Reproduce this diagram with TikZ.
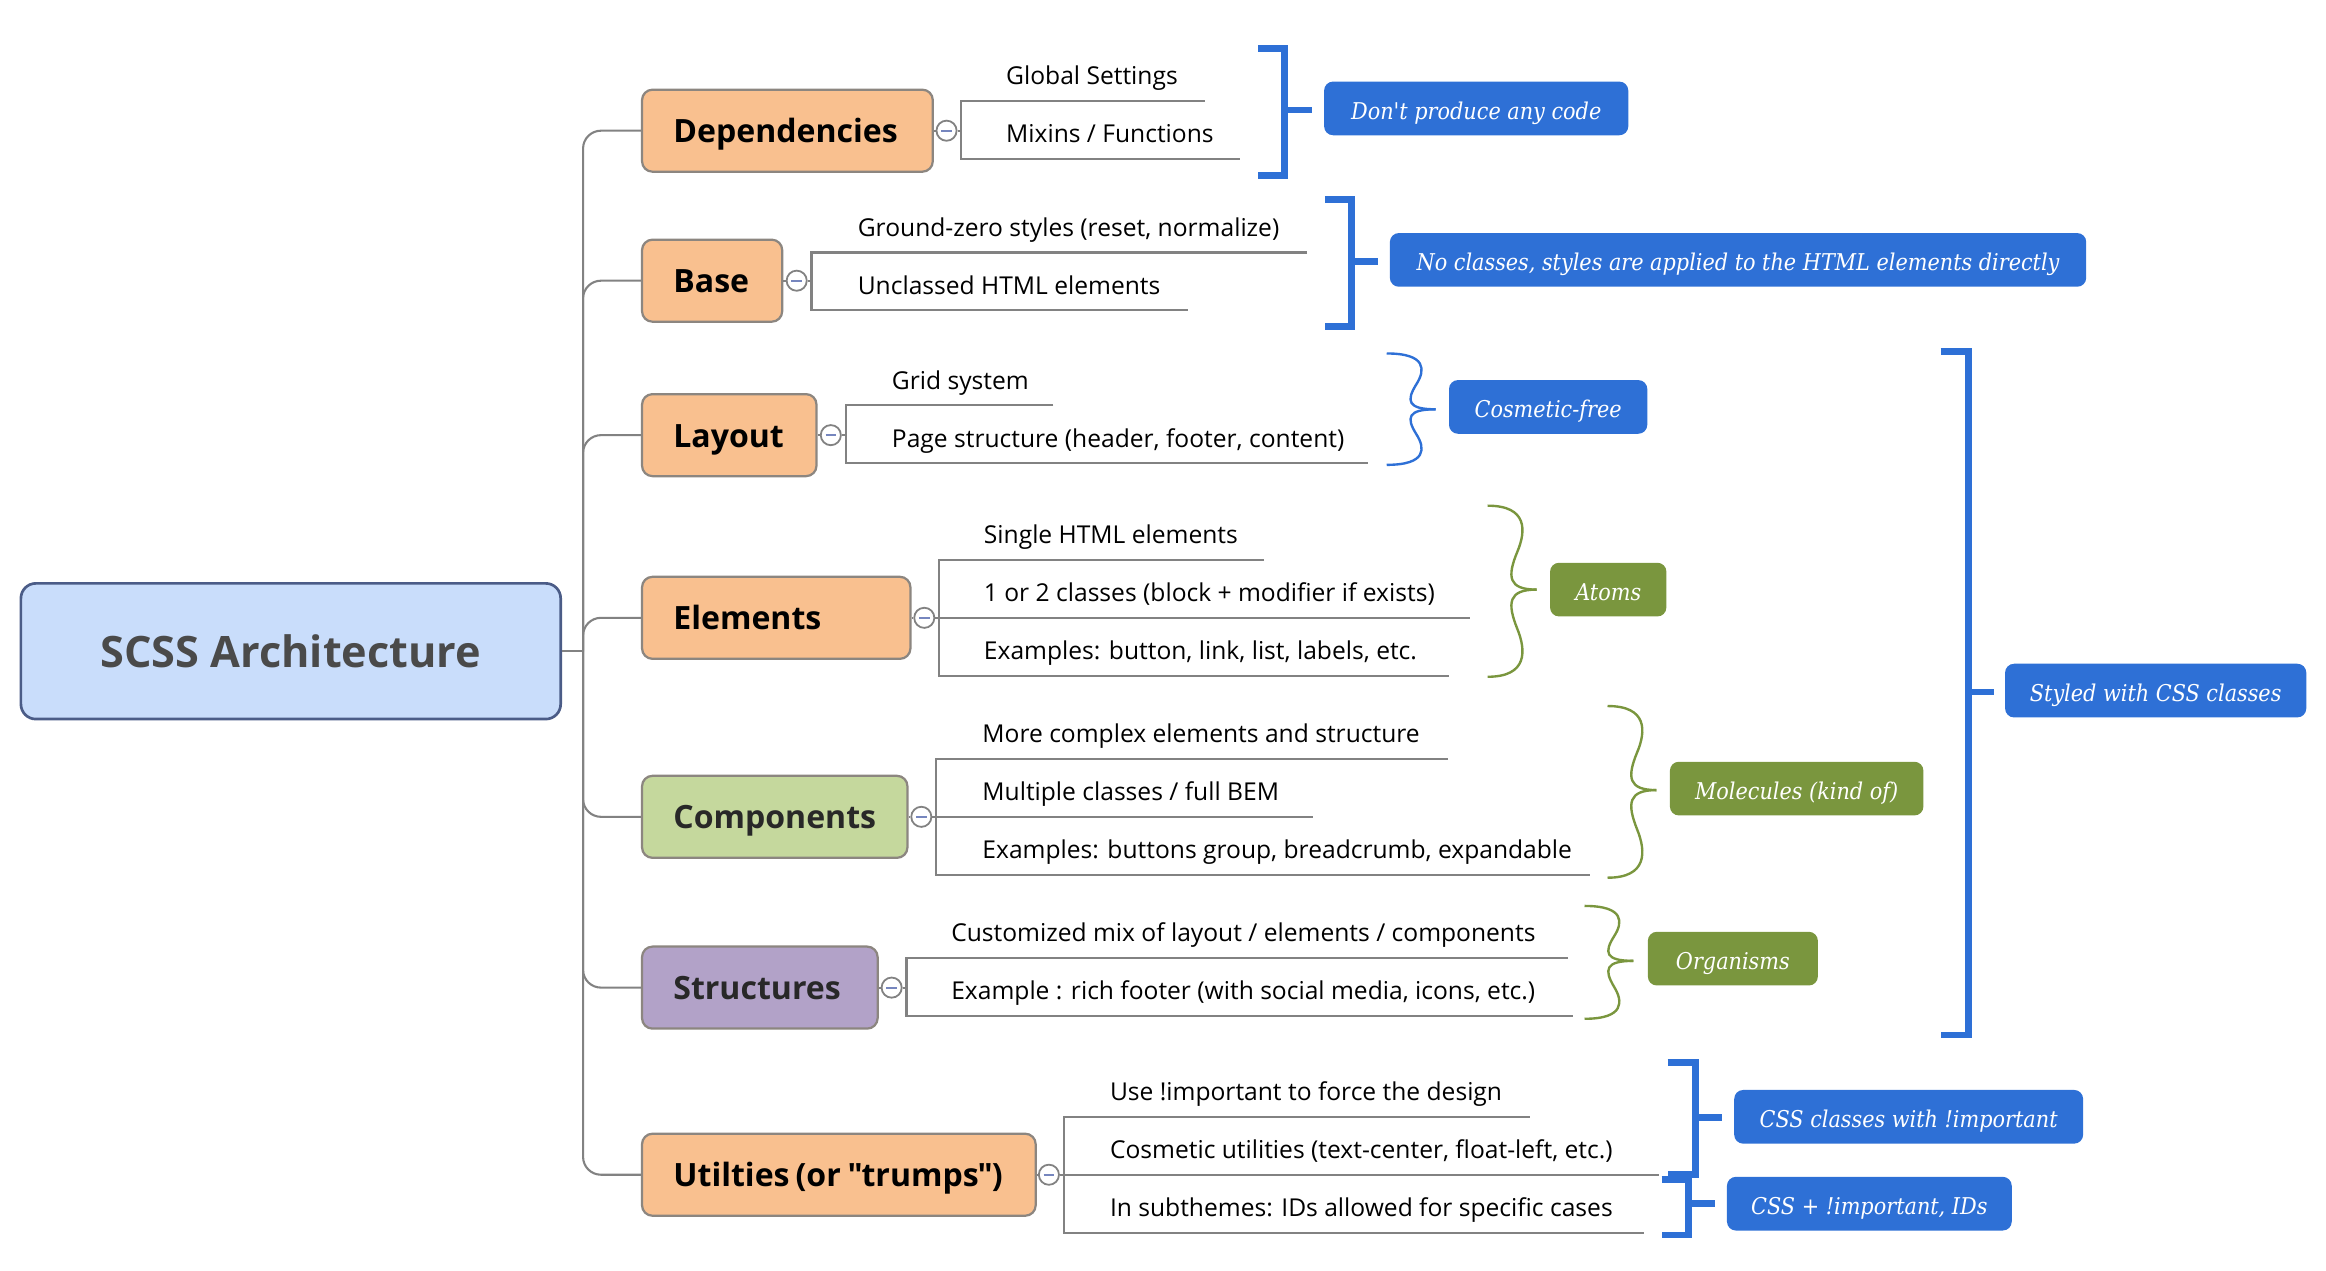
\documentclass[tikz,border=0pt]{standalone}
\usepackage{fontspec}
\setmainfont{Open Sans}[Ligatures=TeXOff]
\newfontfamily\calloutfont{DejaVu Serif Condensed Italic}
\definecolor{peach}{RGB}{249,192,143}
\definecolor{leaf}{RGB}{197,216,157}
\definecolor{lav}{RGB}{178,162,200}
\definecolor{rootfill}{RGB}{201,221,251}
\definecolor{rootdraw}{RGB}{75,92,135}
\definecolor{boxdraw}{RGB}{140,134,128}
\definecolor{linegray}{RGB}{130,130,130}
\definecolor{callblue}{RGB}{46,112,214}
\definecolor{callgreen}{RGB}{122,150,62}
\definecolor{colmark}{RGB}{118,134,190}
\definecolor{darktext}{RGB}{40,40,40}
\newcommand\mybrace[5]{%
  \draw[draw=#5, line width=1.6pt]
    (#1,#2) .. controls ({#1+27},#2) and ({#1+26},{#2+0.3*(#3-#2)}) .. ({#1+20},{#2+0.55*(#3-#2)})
    .. controls ({#1+13},{#2+0.85*(#3-#2)}) and ({#1+14},#3) .. ({#1+33},#3);
  \draw[draw=#5, line width=1.6pt]
    (#1,#4) .. controls ({#1+27},#4) and ({#1+26},{#4-0.3*(#4-#3)}) .. ({#1+20},{#4-0.55*(#4-#3)})
    .. controls ({#1+13},{#4-0.85*(#4-#3)}) and ({#1+14},#3) .. ({#1+33},#3);
}
\begin{document}
\begin{tikzpicture}[x=0.995pt,y=-0.996pt,
  conn/.style={draw=linegray, line width=1.4pt},
  brk/.style={draw=callblue, line width=4.5pt},
  mainbox/.style={draw=boxdraw, line width=1.5pt, rounded corners=7pt, minimum height=55pt,
    inner xsep=21pt, inner ysep=0pt, anchor=west, align=left, text width=#1,
    text height=21pt, text depth=5pt,
    font=\fontsize{21.5}{26}\selectfont\bfseries, text=black},
  coll/.style={circle, draw=linegray, fill=white, line width=1.2pt, minimum size=13.5pt, inner sep=0pt,
    path picture={\draw[draw=colmark, line width=1.4pt]
      ([xshift=-3.5pt]path picture bounding box.center) -- ([xshift=3.5pt]path picture bounding box.center);}},
  child/.style={anchor=base west, inner sep=0pt, font=\fontsize{16.5}{19}\selectfont, text=black},
  callout/.style={fill=#1, rounded corners=6pt, text=white, inner xsep=0pt, inner ysep=0pt,
    minimum height=36pt, text height=17pt, text depth=2.6pt,
    font=\calloutfont\fontsize{15.5}{18}\selectfont},
]
\useasboundingbox (0,0) rectangle (1567.8,855.4);

% root
\node[draw=rootdraw, fill=rootfill, line width=1.8pt, rounded corners=10pt, minimum width=362pt,
  minimum height=91pt, inner sep=0pt, text={rgb,255:red,74;green,74;blue,74},
  font=\fontsize{29}{34}\selectfont\bfseries] (root) at (196,438.5) {SCSS Architecture};
\coordinate (trunk) at (393,438.5);
\draw[conn] (root.east) -- (trunk);

% main topics
\node[mainbox=153pt, fill=peach] (dep) at (432,88) {\mbox{Dependencies}};
\node[mainbox=52pt, fill=peach] (base) at (432,189) {\mbox{Base}};
\node[mainbox=75pt, fill=peach] (lay) at (432,293) {\mbox{Layout}};
\node[mainbox=138pt, fill=peach] (ele) at (432,416) {\mbox{Elements}};
\node[mainbox=136pt, fill=leaf, text=darktext] (comp) at (432,550) {\mbox{Components}};
\node[mainbox=116pt, fill=lav, text=darktext] (str) at (432,665) {\mbox{Structures}};
\node[mainbox=222pt, fill=peach] (util) at (432,791)
  {\mbox{Utilties\hspace{4pt}(or\hspace{4.5pt}"\kern-0.8pt trumps\kern-0.8pt"\kern-0.5pt)}};

\foreach \n in {dep,base,lay,ele,comp,str,util}
  \draw[conn, rounded corners=12pt] (trunk) |- (\n.west);

% collapse markers
\node[coll] (depc) at (638,88) {};
\node[coll] (basec) at (537,189) {};
\node[coll] (layc) at (560,293) {};
\node[coll] (elec) at (623,416) {};
\node[coll] (compc) at (621,550) {};
\node[coll] (strc) at (601,665) {};
\node[coll] (utilc) at (707,791) {};
\draw[conn] (dep.east) -- (depc.west);
\draw[conn] (base.east) -- (basec.west);
\draw[conn] (lay.east) -- (layc.west);
\draw[conn] (ele.east) -- (elec.west);
\draw[conn] (comp.east) -- (compc.west);
\draw[conn] (str.east) -- (strc.west);
\draw[conn] (util.east) -- (utilc.west);

% Dependencies children
\draw[conn] (depc.east) -- (648,88);
\draw[conn] (812,68) -- (648,68) -- (648,107) -- (836,107);
\node[child] (dep1) at (678,57) {Global Settings};
\node[child] (dep2) at (678,96) {Mixins / Functions};

% Base children
\draw[conn] (basec.east) -- (547,189);
\draw[conn] (881,170) -- (547,170) -- (547,209) -- (801,209);
\node[child] (base1) at (578,159) {Ground-zero styles (reset, normalize)};
\node[child] (base2) at (578,198) {Unclassed HTML elements};

% Layout children
\draw[conn] (layc.east) -- (570,293);
\draw[conn] (710,273) -- (570,273) -- (570,312) -- (922,312);
\node[child] (lay1) at (601,262) {Grid system};
\node[child] (lay2) at (601,301) {Page structure (header, footer, content)};

% Elements children
\draw[conn] (elec.east) -- (991,416);
\draw[conn] (852,377) -- (633,377) -- (633,455) -- (977,455);
\node[child] (ele1) at (663,366) {Single HTML elements};
\node[child] (ele2) at (663,405) {1 or 2 classes (block + modifier if exists)};
\node[child] (ele3) at (663,444) {Examples: button, link, list, labels, etc.};

% Components children
\draw[conn] (compc.east) -- (885,550);
\draw[conn] (976,511) -- (631,511) -- (631,589) -- (1072,589);
\node[child] (comp1) at (662,500) {More complex elements and structure};
\node[child] (comp2) at (662,539) {Multiple classes / full BEM};
\node[child] (comp3) at (662,578) {Examples: buttons group, breadcrumb, expandable};

% Structures children
\draw[conn] (strc.east) -- (611,665);
\draw[conn] (1057,645) -- (611,645) -- (611,684) -- (1060,684);
\node[child] (str1) at (641,634) {Customized mix of layout / elements / components};
\node[child] (str2) at (641,673) {Example : rich footer (with social media, icons, etc.)};

% Utilities children
\draw[conn] (utilc.east) -- (1118,791);
\draw[conn] (1031,752) -- (717,752) -- (717,830) -- (1108,830);
\node[child] (util1) at (748,741) {Use !important to force the design};
\node[child] (util2) at (748,780) {Cosmetic utilities (text-center, float-left, etc.)};
\node[child] (util3) at (748,819) {In subthemes: IDs allowed for specific cases};

% callouts
\node[callout=callblue, minimum width=204pt] (nocode) at (995,73) {Don't produce any code};
\node[callout=callblue, minimum width=467pt] (noclass) at (1171.5,175) {No classes, styles are applied to the HTML elements directly};
\node[callout=callblue, minimum width=133pt] (cosm) at (1043.5,274) {Cosmetic-free};
\node[callout=callgreen, minimum width=78pt] (atoms) at (1084,397) {Atoms};
\node[callout=callgreen, minimum width=170pt] (mol) at (1211,531) {Molecules (kind of)};
\node[callout=callgreen, minimum width=114pt] (org) at (1168,645.5) {Organisms};
\node[callout=callblue, minimum width=202pt] (styled) at (1453,465) {Styled with CSS classes};
\node[callout=callblue, minimum width=234pt] (imp) at (1286.5,752) {CSS classes with !important};
\node[callout=callblue, minimum width=191pt] (ids) at (1260,810.5) {CSS + !important, IDs};

% square brackets
\draw[brk] (848,32.5) -- (866,32.5) -- (866,118) -- (848,118);
\draw[brk] (866,74) -- ([xshift=-8pt]nocode.west |- 0,74);
\draw[brk] (893,134.5) -- (911,134.5) -- (911,220) -- (893,220);
\draw[brk] (911,176) -- ([xshift=-8pt]noclass.west |- 0,176);
\draw[brk] (1308,236.5) -- (1327,236.5) -- (1327,697) -- (1308,697);
\draw[brk] (1327,466) -- ([xshift=-7pt]styled.west |- 0,466);
\draw[brk] (1124,715.5) -- (1143,715.5) -- (1143,791) -- (1124,791);
\draw[brk] (1143,752.5) -- ([xshift=-8pt]imp.west |- 0,752.5);
\draw[brk] (1120,794) -- (1138,794) -- (1138,831.5) -- (1120,831.5);
\draw[brk] (1138,810.5) -- ([xshift=-8pt]ids.west |- 0,810.5);

% curly braces
\mybrace{934.7}{238}{275.6}{313}{callblue}
\mybrace{1002.7}{340.5}{397}{455.7}{callgreen}
\mybrace{1083.5}{475.4}{532}{591}{callgreen}
\mybrace{1068}{610}{647}{686}{callgreen}
\end{tikzpicture}
\end{document}
